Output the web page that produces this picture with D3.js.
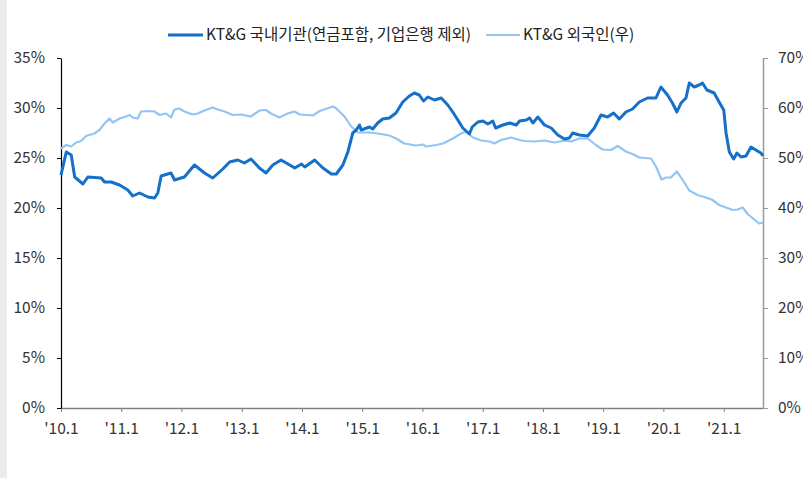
<!DOCTYPE html>
<html>
<head>
<meta charset="utf-8">
<script src="https://cdn.jsdelivr.net/npm/d3@7"></script>
<style>
  html, body { margin: 0; padding: 0; background: #fff; }
  svg { display: block; }
</style>
</head>
<body>
<svg id="chart" width="803" height="478"></svg>
<script>
// ---------- DATA ----------
const seriesNames = ["KT&G 국내기관(연금포함, 기업은행 제외)", "KT&G 외국인(우)"];

const domesticDates = [
  "2010-01-01","2010-02-02","2010-03-04","2010-03-25","2010-05-14","2010-06-13","2010-09-02","2010-09-22",
  "2010-11-01","2010-12-22","2011-02-10","2011-03-12","2011-04-22","2011-06-12","2011-07-22","2011-08-11",
  "2011-08-31","2011-10-30","2011-11-20","2012-01-19","2012-03-20","2012-05-20","2012-07-09","2012-09-08",
  "2012-10-19","2012-12-08","2013-01-17","2013-02-26","2013-04-18","2013-05-28","2013-07-08","2013-08-27",
  "2013-10-19","2013-11-18","2013-12-29","2014-01-18","2014-03-19","2014-05-08","2014-06-28","2014-07-28",
  "2014-09-06","2014-10-06","2014-11-05","2014-11-26","2014-12-16","2014-12-26","2015-02-14","2015-03-06",
  "2015-04-05","2015-05-05","2015-06-15","2015-07-25","2015-09-04","2015-10-14","2015-11-13","2015-12-13",
  "2016-01-08","2016-02-03","2016-03-14","2016-04-24","2016-06-03","2016-07-03","2016-08-03","2016-09-02",
  "2016-10-12","2016-10-29","2016-12-02","2017-01-02","2017-02-01","2017-03-03","2017-03-20","2017-05-03",
  "2017-06-13","2017-07-23","2017-08-12","2017-09-22","2017-10-12","2017-11-01","2017-12-01","2018-01-10",
  "2018-02-20","2018-04-01","2018-05-11","2018-06-10","2018-06-30","2018-08-10","2018-09-29","2018-11-08",
  "2018-12-19","2019-01-28","2019-03-05","2019-04-09","2019-05-19","2019-06-28","2019-08-08","2019-09-27",
  "2019-11-17","2019-12-17","2020-01-26","2020-02-25","2020-03-23","2020-04-17","2020-05-17","2020-06-06",
  "2020-07-06","2020-08-05","2020-08-25","2020-09-21","2020-11-04","2020-12-04","2021-01-01","2021-01-15",
  "2021-02-04","2021-03-02","2021-03-22","2021-04-16","2021-05-16","2021-06-15","2021-07-15","2021-08-14",
  "2021-08-27"
];
const domesticValues = [
  23.3,25.6,25.3,23.1,22.4,23.1,23.0,22.6,
  22.6,22.3,21.8,21.2,21.5,21.1,21.0,21.5,
  23.2,23.5,22.8,23.1,24.3,23.5,23.0,23.9,
  24.6,24.8,24.5,24.9,24.0,23.5,24.3,24.8,
  24.3,24.0,24.4,24.1,24.8,24.0,23.4,23.4,
  24.3,25.6,27.5,27.8,28.3,27.8,28.1,27.9,
  28.5,28.9,29.0,29.5,30.6,31.2,31.5,31.3,
  30.7,31.1,30.8,31.0,30.3,29.6,28.8,28.0,
  27.4,28.1,28.6,28.7,28.4,28.7,28.0,28.3,
  28.5,28.3,28.7,28.8,29.0,28.5,29.1,28.3,
  28.0,27.3,26.9,27.0,27.5,27.3,27.2,28.0,
  29.3,29.1,29.5,28.9,29.6,29.9,30.6,31.0,
  31.0,32.1,31.3,30.5,29.6,30.5,31.0,32.5,
  32.1,32.3,32.5,31.8,31.5,30.6,29.8,27.5,
  25.6,24.9,25.5,25.1,25.2,26.1,25.8,25.5,
  25.2
];

const foreignDates = [
  "2010-01-01","2010-02-02","2010-03-04","2010-04-03","2010-05-03","2010-06-02","2010-07-23","2010-08-22",
  "2010-09-22","2010-10-22","2010-11-11","2010-12-22","2011-01-31","2011-02-21","2011-03-12","2011-04-11",
  "2011-05-01","2011-06-21","2011-07-22","2011-08-21","2011-09-30","2011-10-30","2011-11-20","2011-12-20",
  "2012-01-19","2012-03-10","2012-04-09","2012-05-20","2012-07-09","2012-08-08","2012-09-18","2012-11-07",
  "2012-12-27","2013-02-26","2013-04-18","2013-05-28","2013-06-27","2013-08-17","2013-10-06","2013-11-16",
  "2013-12-18","2014-03-08","2014-04-18","2014-07-08","2014-07-28","2014-09-16","2014-10-27","2014-12-06",
  "2015-02-14","2015-04-05","2015-06-15","2015-07-25","2015-09-14","2015-11-24","2016-01-04","2016-01-24",
  "2016-03-25","2016-05-05","2016-07-03","2016-08-23","2016-09-22","2016-11-02","2016-12-23","2017-02-11",
  "2017-03-13","2017-04-22","2017-06-22","2017-08-12","2017-09-11","2017-11-10","2018-01-10","2018-03-11",
  "2018-05-11","2018-06-20","2018-08-10","2018-09-29","2018-11-18","2018-12-28","2019-02-18","2019-03-30",
  "2019-05-19","2019-06-28","2019-08-08","2019-10-18","2019-11-17","2019-12-21","2020-01-17","2020-02-16",
  "2020-03-23","2020-04-27","2020-06-06","2020-07-26","2020-09-15","2020-10-25","2020-12-04","2021-01-15",
  "2021-02-24","2021-03-26","2021-04-26","2021-05-26","2021-07-05","2021-08-04","2021-08-27"
];
const foreignValues = [
  51.9,52.6,52.3,53.1,53.4,54.4,54.9,55.6,
  56.9,57.9,57.1,57.9,58.3,58.6,58.1,57.9,
  59.3,59.4,59.3,58.6,58.9,58.1,59.7,59.9,
  59.3,58.7,58.9,59.5,60.1,59.7,59.3,58.6,
  58.7,58.3,59.5,59.6,58.9,58.1,58.9,59.3,
  58.7,58.5,59.4,60.3,59.9,58.3,56.3,55.1,
  55.1,54.9,54.5,53.9,52.9,52.5,52.7,52.3,
  52.6,52.9,53.9,54.9,55.3,54.1,53.5,53.3,
  52.9,53.6,54.1,53.6,53.4,53.3,53.5,53.1,
  53.5,53.3,53.9,53.9,52.6,51.7,51.6,52.4,
  51.3,50.8,50.1,49.9,48.3,45.7,46.1,46.1,
  47.3,45.6,43.5,42.6,42.1,41.6,40.6,40.1,
  39.6,39.7,40.1,38.8,37.7,36.9,37.1
];

const xTickDates = ["2010-01-01","2011-01-01","2012-01-01","2013-01-01","2014-01-01","2015-01-01",
  "2016-01-01","2017-01-01","2018-01-01","2019-01-01","2020-01-01","2021-01-01"];
const xTickLabels = ["'10.1","'11.1","'12.1","'13.1","'14.1","'15.1","'16.1","'17.1","'18.1","'19.1","'20.1","'21.1"];
const leftTicks = [0,5,10,15,20,25,30,35];
const rightTicks = [0,10,20,30,40,50,60,70];
const xDomain = ["2010-01-01","2021-08-27"];

// ---------- DRAW ----------
const parse = d3.timeParse("%Y-%m-%d");
const svg = d3.select("#chart");
const FONT = "'Noto Sans CJK KR', 'Noto Sans', sans-serif";
const darkColor = "#1470c8";
const lightColor = "#92c5f3";

// left grey strip
svg.append("rect").attr("x",0).attr("y",0).attr("width",7).attr("height",478).attr("fill","#ebebeb");

const plot = {left: 61, right: 763, top: 58, bottom: 408};

const x = d3.scaleTime().domain(xDomain.map(parse)).range([plot.left, plot.right]);
const yL = d3.scaleLinear().domain([0,35]).range([plot.bottom, plot.top]);
const yR = d3.scaleLinear().domain([0,70]).range([plot.bottom, plot.top]);

const domestic = domesticDates.map((d,i)=>({date: parse(d), v: domesticValues[i]}));
const foreign = foreignDates.map((d,i)=>({date: parse(d), v: foreignValues[i]}));

// bottom axis
const gx = svg.append("g").attr("transform",`translate(0,${plot.bottom})`)
  .call(d3.axisBottom(x).tickValues(xTickDates.map(parse))
    .tickFormat((d,i)=>xTickLabels[i]).tickSize(4).tickSizeOuter(0).tickPadding(11));
gx.select(".domain").attr("stroke","#7f7f7f").attr("stroke-width",1.5);
gx.selectAll(".tick line").attr("stroke","#7f7f7f");
gx.selectAll("text").attr("font-family",FONT).attr("font-size",15.5).attr("fill","#333");

// left axis
const gl = svg.append("g").attr("transform",`translate(${plot.left},0)`)
  .call(d3.axisLeft(yL).tickValues(leftTicks).tickFormat(d=>d+"%").tickSize(4).tickSizeOuter(0).tickPadding(12));
gl.select(".domain").attr("stroke","#000").attr("stroke-width",1.2);
gl.selectAll(".tick line").attr("stroke","#000");
gl.selectAll("text").attr("font-family",FONT).attr("font-size",15.5).attr("fill","#333");

// right axis
const gr = svg.append("g").attr("transform",`translate(${plot.right},0)`)
  .call(d3.axisRight(yR).tickValues(rightTicks).tickFormat(d=>d+"%").tickSize(5).tickSizeOuter(0).tickPadding(10));
gr.select(".domain").attr("stroke","#9a9a9a").attr("stroke-width",1.5);
gr.selectAll(".tick line").attr("stroke","#9a9a9a");
gr.selectAll("text").attr("font-family",FONT).attr("font-size",15.5).attr("fill","#333");

// lines
svg.append("path").datum(foreign)
  .attr("fill","none").attr("stroke",lightColor).attr("stroke-width",2.2).attr("stroke-linejoin","round")
  .attr("d", d3.line().x(d=>x(d.date)).y(d=>yR(d.v)));
svg.append("path").datum(domestic)
  .attr("fill","none").attr("stroke",darkColor).attr("stroke-width",3).attr("stroke-linejoin","round")
  .attr("d", d3.line().x(d=>x(d.date)).y(d=>yL(d.v)));

// legend
const legend = svg.append("g").attr("font-family",FONT).attr("font-size",15.5).attr("fill","#222");
const leg = [
  {x1:168, x2:203, tx:206, color:darkColor, w:3, name:seriesNames[0]},
  {x1:486, x2:520, tx:523, color:lightColor, w:2.2, name:seriesNames[1]}
];
leg.forEach(l=>{
  legend.append("line").attr("x1",l.x1).attr("x2",l.x2).attr("y1",35).attr("y2",35)
    .attr("stroke",l.color).attr("stroke-width",l.w);
  legend.append("text").attr("x",l.tx).attr("y",35).attr("dy","0.35em").text(l.name);
});
</script>
</body>
</html>
